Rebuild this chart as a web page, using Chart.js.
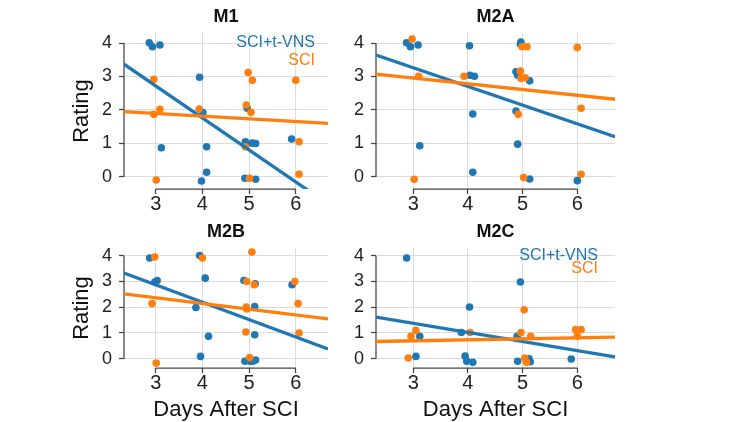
<!DOCTYPE html>
<html><head><meta charset="utf-8">
<script src="https://cdn.jsdelivr.net/npm/chart.js@4/dist/chart.umd.min.js"></script>
<style>
html,body{margin:0;padding:0;background:#fff;overflow:hidden;width:750px;height:422px}
canvas{position:absolute;left:0;top:0}
</style></head><body>
<canvas id="c0" width="750" height="422"></canvas>
<canvas id="c1" width="750" height="422"></canvas>
<canvas id="c2" width="750" height="422"></canvas>
<canvas id="c3" width="750" height="422"></canvas>
<script>
// ---- data ----
const panelTitles = ['M1', 'M2A', 'M2B', 'M2C'];
const seriesNames = ['SCI+t-VNS', 'SCI'];
const xTicks = [3, 4, 5, 6];
const yTicks = [0, 1, 2, 3, 4];
const fitX = [2.32, 6.69];

const m1VnsX = [2.86, 2.93, 3.09, 3.94, 4.01, 3.12, 4.09, 4.09, 3.98, 4.96, 4.92, 4.93, 5.07, 5.14, 4.91, 5.14, 5.91];
const m1VnsY = [4.01, 3.89, 3.94, 2.98, 1.92, 0.87, 0.90, 0.14, -0.12, 2.05, 1.05, 0.98, 1.01, 1.00, -0.04, -0.07, 1.13];
const m1SciX = [2.96, 3.09, 2.96, 3.01, 3.93, 4.98, 5.07, 4.94, 5.04, 4.92, 5.01, 6.00, 6.07, 6.07];
const m1SciY = [2.92, 2.02, 1.87, -0.09, 2.03, 3.12, 2.89, 2.15, 1.93, 0.90, -0.04, 2.89, 1.05, 0.08];
const m1VnsFit = [3.37, -0.81];
const m1SciFit = [1.95, 1.60];

const m2aVnsX = [2.88, 2.95, 3.09, 3.12, 4.03, 4.04, 4.12, 4.09, 4.09, 4.97, 4.96, 4.88, 4.91, 5.13, 4.88, 4.91, 5.13, 6.00];
const m2aVnsY = [4.01, 3.89, 3.94, 0.93, 3.92, 3.04, 3.01, 1.88, 0.14, 4.03, 3.97, 3.14, 3.04, 2.87, 1.97, 0.98, -0.06, -0.11];
const m2aSciX = [2.98, 3.10, 3.02, 3.93, 4.96, 4.99, 5.08, 5.05, 4.97, 4.92, 5.02, 6.00, 6.07, 6.07];
const m2aSciY = [4.12, 3.01, -0.07, 3.01, 3.16, 3.89, 3.89, 2.96, 2.95, 1.87, -0.02, 3.87, 2.05, 0.08];
const m2aVnsFit = [3.64, 1.20];
const m2aSciFit = [3.07, 2.32];

const m2bVnsX = [2.87, 2.98, 3.03, 3.94, 4.06, 3.86, 4.13, 3.96, 4.89, 5.13, 5.12, 5.12, 4.91, 5.02, 5.08, 5.14, 5.92];
const m2bVnsY = [3.91, 2.98, 3.04, 4.01, 3.13, 1.99, 0.87, 0.09, 3.04, 2.91, 2.03, 0.93, -0.10, -0.10, -0.10, -0.05, 2.87];
const m2bSciX = [2.98, 2.92, 3.01, 4.00, 5.06, 4.95, 5.11, 4.94, 4.95, 4.93, 5.01, 5.98, 6.05, 6.07];
const m2bSciY = [3.95, 2.14, -0.17, 3.91, 4.14, 3.00, 2.87, 2.01, 1.93, 1.04, 0.05, 3.00, 2.14, 1.00];
const m2bVnsFit = [3.33, 0.38];
const m2bSciFit = [2.52, 1.55];

const m2cVnsX = [2.88, 3.12, 3.05, 4.03, 3.88, 3.95, 3.98, 4.09, 4.96, 4.90, 4.91, 5.11, 5.14, 5.12, 5.89];
const m2cVnsY = [3.91, 0.87, 0.09, 2.01, 1.02, 0.10, -0.10, -0.14, 2.98, 0.87, -0.10, -0.05, -0.12, 0.00, -0.01];
const m2cSciX = [2.96, 3.05, 2.91, 4.04, 5.03, 4.97, 5.15, 5.04, 5.07, 5.97, 6.07, 6.00];
const m2cSciY = [0.87, 1.10, 0.03, 1.02, 1.90, 1.02, 0.87, 0.03, -0.14, 1.13, 1.13, 0.87];
const m2cVnsFit = [1.62, 0.07];
const m2cSciFit = [0.67, 0.84];

// ---- rendering ----
const BLUE = '#1f77b4', ORANGE = '#ff7f0e';
const FONT = "'Liberation Sans', Arial, sans-serif";
const pts = (xs, ys) => xs.map((x, i) => ({x, y: ys[i]}));
const fitPts = ys => fitX.map((x, i) => ({x, y: ys[i]}));

const panelData = [
  {vx: m1VnsX, vy: m1VnsY, sx: m1SciX, sy: m1SciY, vf: m1VnsFit, sf: m1SciFit},
  {vx: m2aVnsX, vy: m2aVnsY, sx: m2aSciX, sy: m2aSciY, vf: m2aVnsFit, sf: m2aSciFit},
  {vx: m2bVnsX, vy: m2bVnsY, sx: m2bSciX, sy: m2bSciY, vf: m2bVnsFit, sf: m2bSciFit},
  {vx: m2cVnsX, vy: m2cVnsY, sx: m2cSciX, sy: m2cSciY, vf: m2cVnsFit, sf: m2cSciFit}
];
const frames = [
  {pad: {left: 64, right: 422, top: 6, bottom: 193}, xh: 40, yTitle: true, xTitle: false, legend: {dx: 13, dy: 10, step: 18}},
  {pad: {left: 316, right: 135, top: 6, bottom: 193}, xh: 40, yTitle: false, xTitle: false, legend: null},
  {pad: {left: 64, right: 422, top: 221, bottom: 0}, xh: 54, yTitle: true, xTitle: true, legend: null},
  {pad: {left: 316, right: 135, top: 221, bottom: 0}, xh: 54, yTitle: false, xTitle: true, legend: {dx: 17, dy: 8, step: 13}}
];

const spines = {
  id: 'spines',
  beforeDatasetsDraw(chart) {
    const {ctx, chartArea: a, scales: {x, y}} = chart;
    ctx.save();
    ctx.strokeStyle = '#444';
    ctx.lineWidth = 1.25;
    ctx.beginPath();
    ctx.moveTo(a.left, y.getPixelForValue(yTicks[yTicks.length - 1]));
    ctx.lineTo(a.left, y.getPixelForValue(yTicks[0]));
    ctx.moveTo(x.getPixelForValue(xTicks[0]), a.bottom);
    ctx.lineTo(x.getPixelForValue(xTicks[xTicks.length - 1]), a.bottom);
    ctx.stroke();
    ctx.restore();
  }
};
const textLegend = {
  id: 'textLegend',
  afterDatasetsDraw(chart, args, opts) {
    if (!opts || !opts.show) return;
    const {ctx, chartArea: a} = chart;
    ctx.save();
    ctx.font = '16px ' + FONT;
    ctx.textAlign = 'right';
    ctx.textBaseline = 'middle';
    seriesNames.forEach((name, i) => {
      ctx.fillStyle = [BLUE, ORANGE][i];
      ctx.fillText(name, a.right - opts.dx, a.top + opts.dy + i * opts.step);
    });
    ctx.restore();
  }
};

const gridOpts = {color: '#dcdcdc', lineWidth: 1, drawTicks: true, tickLength: 5, tickColor: '#444', tickWidth: 1.25};

panelData.forEach((d, k) => {
  const f = frames[k];
  new Chart(document.getElementById('c' + k), {
    type: 'scatter',
    data: {
      datasets: [
        {label: seriesNames[0], data: pts(d.vx, d.vy), backgroundColor: BLUE, borderColor: BLUE, pointRadius: 3.8, pointBorderWidth: 0, order: 4},
        {label: seriesNames[1], data: pts(d.sx, d.sy), backgroundColor: ORANGE, borderColor: ORANGE, pointRadius: 3.8, pointBorderWidth: 0, order: 3},
        {label: seriesNames[0] + ' fit', data: fitPts(d.vf), showLine: true, borderColor: BLUE, borderWidth: 3.3, pointRadius: 0, clip: 0, order: 2},
        {label: seriesNames[1] + ' fit', data: fitPts(d.sf), showLine: true, borderColor: ORANGE, borderWidth: 3.3, pointRadius: 0, clip: 0, order: 1}
      ]
    },
    options: {
      responsive: false,
      animation: false,
      devicePixelRatio: 1,
      layout: {padding: f.pad},
      plugins: {
        legend: {display: false},
        tooltip: {enabled: false},
        title: {display: true, text: panelTitles[k], fullSize: false, color: '#111',
          font: {family: FONT, size: 18, weight: 'bold'}, padding: {top: 0, bottom: 5.4}},
        textLegend: {show: !!f.legend, ...(f.legend || {})}
      },
      scales: {
        x: {
          type: 'linear', min: 2.32, max: 6.69, bounds: 'data',
          afterBuildTicks: s => { s.ticks = xTicks.map(v => ({value: v})); },
          afterFit: s => { s.height = f.xh; s.paddingLeft = 0; s.paddingRight = 0; },
          grid: gridOpts,
          border: {display: false},
          ticks: {font: {family: FONT, size: 20}, color: '#222', padding: -2, maxRotation: 0, autoSkip: false},
          title: {display: f.xTitle, text: 'Days After SCI', color: '#111', font: {family: FONT, size: 22}, padding: {top: 0, bottom: -1}}
        },
        y: {
          type: 'linear', min: -0.36, max: 4.3, bounds: 'data',
          afterBuildTicks: s => { s.ticks = yTicks.map(v => ({value: v})); },
          afterFit: s => { s.width = 60; s.paddingTop = 0; s.paddingBottom = 0; },
          grid: gridOpts,
          border: {display: false},
          ticks: {font: {family: FONT, size: 18}, color: '#222', padding: 7},
          title: {display: f.yTitle, text: 'Rating', color: '#111', font: {family: FONT, size: 22}, padding: {top: 5, bottom: 0}}
        }
      }
    },
    plugins: [spines, textLegend]
  });
});
</script>
</body></html>
